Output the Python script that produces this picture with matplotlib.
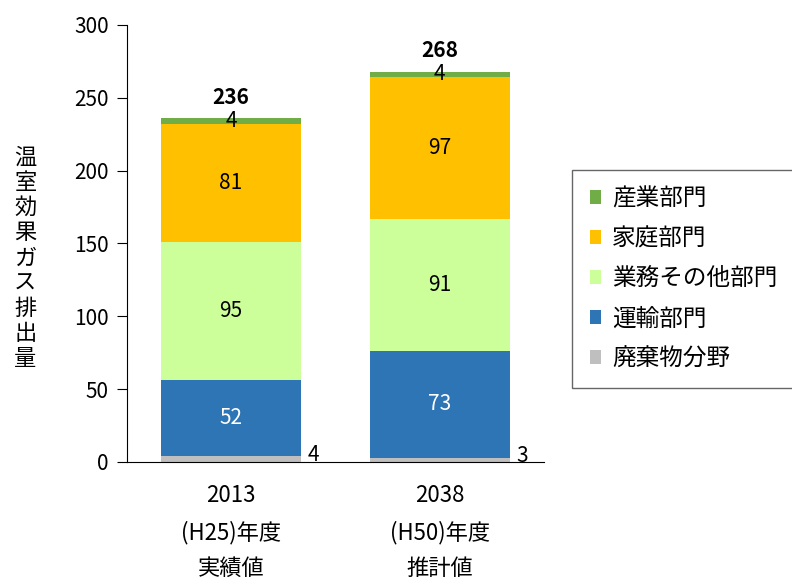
import numpy as np
import matplotlib.pyplot as plt

plt.rcParams['font.family'] = ['Noto Sans CJK JP', 'DejaVu Sans']

categories = ['2013\n(H25)年度\n実績値', '2038\n(H50)年度\n推計値']
sectors = ['廃棄物分野', '運輸部門', '業務その他部門', '家庭部門', '産業部門']
waste = [4, 3]
transport = [52, 73]
business = [95, 91]
household = [81, 97]
industry = [4, 4]
totals = [236, 268]

series = [waste, transport, business, household, industry]
colors = ['#BFBFBF', '#2E75B6', '#CCFF99', '#FFC000', '#70AD47']
text_colors = [None, 'white', 'black', 'black', 'black']

fs = 15

fig = plt.figure(figsize=(7.92, 5.81), dpi=100)
ax = fig.add_axes([0.160, 0.205, 0.527, 0.752])

x = np.arange(len(categories))
width = 0.67
bottom = np.zeros(len(categories))
handles = []
for vals, c, tc, name in zip(series, colors, text_colors, sectors):
    b = ax.bar(x, vals, width, bottom=bottom, color=c, label=name)
    handles.append(b)
    for i, v in enumerate(vals):
        if tc is None:
            ax.annotate(str(v), (x[i] + width / 2, bottom[i] + v), xytext=(5, 1),
                        textcoords='offset points', ha='left', va='center', fontsize=fs)
        else:
            ax.text(x[i], bottom[i] + v / 2, str(v), ha='center', va='center',
                    color=tc, fontsize=fs)
    bottom += np.array(vals)

for i, t in enumerate(totals):
    ax.annotate(str(t), (x[i], t), xytext=(0, 15), textcoords='offset points',
                ha='center', va='center', fontsize=fs, fontweight='bold')

ax.set_xlim(-0.5, 1.5)
ax.set_ylim(0, 300)
ax.set_yticks(range(0, 301, 50))
ax.set_xticks(x)
ax.set_xticklabels(categories, fontsize=16, linespacing=1.72)
ax.tick_params(axis='x', length=0, pad=16)
ax.tick_params(axis='y', labelsize=fs, direction='out', length=7, pad=6)
for s in ['top', 'right']:
    ax.spines[s].set_visible(False)

fig.text(0.032, 0.556, '\n'.join('温室効果ガス排出量'), ha='center', va='center',
         fontsize=16, linespacing=1.12)

leg = fig.legend(handles[::-1], sectors[::-1], loc='center left',
                 bbox_to_anchor=(0.722, 0.52), fontsize=17, frameon=True,
                 fancybox=False, edgecolor='#404040', handlelength=0.5,
                 handleheight=0.5, labelspacing=0.72, borderpad=0.75,
                 handletextpad=0.45, borderaxespad=0)
leg.get_frame().set_linewidth(1.0)

fig.savefig('out.png')
